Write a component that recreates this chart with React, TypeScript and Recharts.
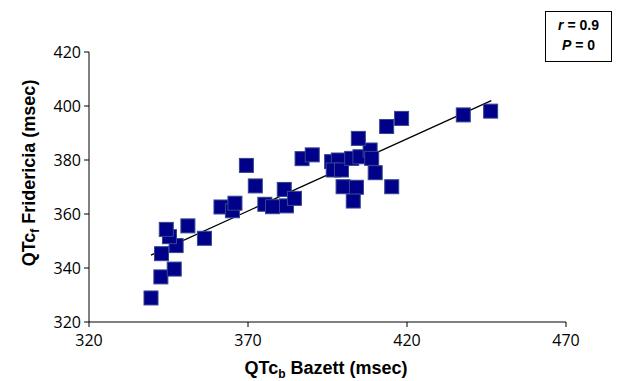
import { ReferenceLine, Scatter, ScatterChart, XAxis, YAxis } from "recharts";

// QTc Bazett (x) vs QTc Fridericia (y), msec
const BAZETT = [
  339.5, 342.6, 346.8, 342.8, 347.4, 345.3, 344.3, 351.1, 356.3, 361.5,
  365.1, 365.9, 369.5, 372.3, 375.3, 377.7, 382.1, 381.4, 384.6, 387.0,
  390.2, 396.3, 398.4, 396.8, 399.4, 402.6, 405.2, 408.4, 408.9, 404.7,
  410.0, 399.9, 404.1, 403.1, 415.2, 413.6, 418.3, 437.7, 446.3,
];
const FRIDERICIA = [
  328.9, 336.7, 339.6, 345.3, 348.3, 351.6, 354.3, 355.6, 351.0, 362.6,
  361.2, 364.0, 378.0, 370.4, 363.6, 362.7, 363.0, 369.1, 365.8, 380.5,
  381.9, 379.4, 380.0, 376.3, 376.3, 380.6, 381.2, 383.7, 380.6, 388.0,
  375.3, 370.1, 369.9, 364.8, 370.1, 392.4, 395.4, 396.7, 398.1,
];
const TREND_X = [339.5, 446.5];
const TREND_Y = [344.8, 402.0];
const X_TICKS = [320, 370, 420, 470];
const Y_TICKS = [320, 340, 360, 380, 400, 420];

const points = BAZETT.map((x, i) => ({ x, y: FRIDERICIA[i] }));

const TICK_FONT = "'Open Sans', sans-serif";
const TITLE_FONT = "'Liberation Sans', Arial, sans-serif";

function Square(props: { cx?: number; cy?: number }) {
  const { cx = 0, cy = 0 } = props;
  return (
    <rect
      x={cx - 7}
      y={cy - 7}
      width={14}
      height={14}
      fill="#000088"
      stroke="#34468f"
      strokeWidth={1}
    />
  );
}

function XTick(props: { x?: number; y?: number; payload?: { value: number } }) {
  const { x = 0, y = 0, payload } = props;
  return (
    <text x={x} y={y + 17} textAnchor="middle" fontFamily={TICK_FONT} fontSize={16} fill="#000">
      {payload?.value}
    </text>
  );
}

function YTick(props: { x?: number; y?: number; payload?: { value: number } }) {
  const { x = 0, y = 0, payload } = props;
  return (
    <text x={x - 1} y={y + 6} textAnchor="end" fontFamily={TICK_FONT} fontSize={16} fill="#000">
      {payload?.value}
    </text>
  );
}

export default function App() {
  return (
    <div style={{ position: "fixed", left: 0, top: 0, width: 618, height: 381, background: "#fff" }}>
      <ScatterChart
        width={618}
        height={381}
        margin={{ top: 52, right: 52, bottom: 19, left: 30 }}
      >
        <XAxis
          type="number"
          dataKey="x"
          domain={[320, 470]}
          ticks={X_TICKS}
          allowDataOverflow
          stroke="#000"
          height={40}
          tick={<XTick />}
          tickSize={5}
        />
        <YAxis
          type="number"
          dataKey="y"
          domain={[320, 420]}
          ticks={Y_TICKS}
          allowDataOverflow
          stroke="#000"
          width={59}
          tick={<YTick />}
          tickSize={5}
        />
        <Scatter data={points} shape={<Square />} isAnimationActive={false} />
        <ReferenceLine
          segment={[
            { x: TREND_X[0], y: TREND_Y[0] },
            { x: TREND_X[1], y: TREND_Y[1] },
          ]}
          stroke="#000"
          strokeWidth={1.3}
          ifOverflow="visible"
        />
      </ScatterChart>
      <svg
        width={618}
        height={381}
        style={{ position: "absolute", left: 0, top: 0, pointerEvents: "none" }}
      >
        <text x={326} y={374} textAnchor="middle" fontFamily={TITLE_FONT} fontWeight="bold" fontSize={18} fill="#000">
          QTc<tspan fontSize={12} dy={4}>b</tspan>
          <tspan dy={-4}> Bazett (msec)</tspan>
        </text>
        <text
          x={35}
          y={173}
          transform="rotate(-90 35 173)"
          textAnchor="middle"
          fontFamily={TITLE_FONT}
          fontWeight="bold"
          fontSize={18}
          fill="#000"
        >
          QTc<tspan fontSize={12} dy={4}>f</tspan>
          <tspan dy={-4}> Fridericia (msec)</tspan>
        </text>
      </svg>
      <div
        style={{
          position: "absolute",
          left: 545,
          top: 11,
          width: 67,
          height: 51,
          border: "1px solid #000",
          boxSizing: "border-box",
          fontFamily: TITLE_FONT,
          fontWeight: "bold",
          fontSize: 14,
          textAlign: "center",
          lineHeight: "20px",
          paddingTop: 3,
        }}
      >
        <div><i>r</i> = 0.9</div>
        <div><i>P</i> = 0</div>
      </div>
    </div>
  );
}
